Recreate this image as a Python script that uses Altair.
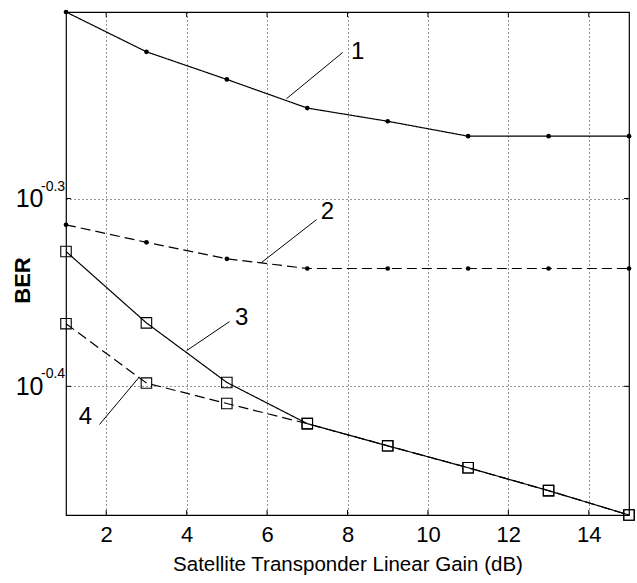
import altair as alt
import pandas as pd

# Transponder linear gain (dB) sampled at odd values
gain = [1, 3, 5, 7, 9, 11, 13, 15]

# Bit error rate for the four configurations
ber1 = [0.630, 0.600, 0.580, 0.560, 0.551, 0.541, 0.541, 0.541]
ber2 = [0.4853, 0.4750, 0.4655, 0.4600, 0.4600, 0.4600, 0.4600, 0.4600]
ber3 = [0.4697, 0.4303, 0.4000, 0.3803, 0.3701, 0.3603, 0.3503, 0.3400]
ber4 = [0.4299, 0.3997, 0.3898, 0.3803, 0.3701, 0.3603, 0.3503, 0.3400]

# Axis ticks
x_ticks = [2, 4, 6, 8, 10, 12, 14]
y_ticks = [10 ** -0.3, 10 ** -0.4]
y_exponents = ["-0.3", "-0.4"]

# Curve labels and their leader lines (text position, line start, line end)
label_text = ["1", "2", "3", "4"]
label_x = [8.25, 7.50, 5.37, 1.48]
label_y = [0.600, 0.4932, 0.4331, 0.3836]
leader_x1 = [6.485, 5.863, 3.998, 1.833]
leader_y1 = [0.5665, 0.4634, 0.4159, 0.3799]
leader_x2 = [7.880, 7.230, 5.067, 2.828]
leader_y2 = [0.5995, 0.4884, 0.4310, 0.4028]

FONT = "Liberation Sans, Arial, sans-serif"
W, H = 563, 503

x_scale = alt.Scale(domain=[1, 15], nice=False, zero=False)
y_scale = alt.Scale(type="log", domain=[min(ber3), max(ber1)], nice=False, zero=False)


def series(values, dash, shape, size, filled):
    df = pd.DataFrame({"gain": gain, "ber": values})
    base = alt.Chart(df)
    line = base.mark_line(color="black", strokeWidth=1.2, strokeDash=dash).encode(
        x=alt.X("gain:Q", scale=x_scale),
        y=alt.Y("ber:Q", scale=y_scale),
    )
    pts = base.mark_point(
        shape=shape, size=size, filled=filled, color="black", strokeWidth=1.1, opacity=1
    ).encode(
        x=alt.X("gain:Q", scale=x_scale),
        y=alt.Y("ber:Q", scale=y_scale),
    )
    return line + pts


# Frame with dotted grid, labels and titles
axes = alt.Chart(pd.DataFrame({"gain": [1], "ber": [0.5]})).mark_point(opacity=0).encode(
    x=alt.X(
        "gain:Q",
        scale=x_scale,
        title="Satellite Transponder Linear Gain (dB)",
        axis=alt.Axis(
            values=x_ticks,
            ticks=False,
            domain=False,
            grid=True,
            gridColor="black",
            gridDash=[1, 3],
            gridOpacity=0.85,
            labelFont=FONT,
            labelFontSize=22,
            labelColor="black",
            labelPadding=9,
            titleFont=FONT,
            titleFontSize=20.5,
            titleFontWeight="normal",
            titleColor="black",
            titleBaseline="alphabetic",
            titleY=55,
        ),
    ),
    y=alt.Y(
        "ber:Q",
        scale=y_scale,
        title="BER",
        axis=alt.Axis(
            values=y_ticks,
            labelExpr="'10'",
            ticks=False,
            domain=False,
            grid=True,
            gridColor="black",
            gridDash=[1, 3],
            gridOpacity=0.85,
            labelFont=FONT,
            labelFontSize=25,
            labelColor="black",
            labelPadding=23,
            labelBaseline="middle",
            titleFont=FONT,
            titleFontSize=22,
            titleFontWeight="bold",
            titleColor="black",
            titleAngle=-90,
            titleBaseline="middle",
            titleX=-44,
            titleY=268,
        ),
    ),
)

# Exponents of the y tick labels
exps = alt.Chart(pd.DataFrame({"ber": y_ticks, "exp": y_exponents, "gain": [1, 1]})).mark_text(
    font=FONT, fontSize=14, align="left", baseline="alphabetic", dx=-25, dy=-8, color="black"
).encode(
    x=alt.X("gain:Q", scale=x_scale),
    y=alt.Y("ber:Q", scale=y_scale),
    text="exp:N",
)

# Inward tick marks on all four sides
xt = pd.DataFrame({"gain": x_ticks})
yt = pd.DataFrame({"ber": y_ticks})
tick_bottom = alt.Chart(xt).mark_rule(color="black", strokeWidth=1).encode(
    x=alt.X("gain:Q", scale=x_scale), y=alt.value(H), y2=alt.value(H - 5)
)
tick_top = alt.Chart(xt).mark_rule(color="black", strokeWidth=1).encode(
    x=alt.X("gain:Q", scale=x_scale), y=alt.value(0), y2=alt.value(5)
)
tick_left = alt.Chart(yt).mark_rule(color="black", strokeWidth=1).encode(
    y=alt.Y("ber:Q", scale=y_scale), x=alt.value(0), x2=alt.value(5)
)
tick_right = alt.Chart(yt).mark_rule(color="black", strokeWidth=1).encode(
    y=alt.Y("ber:Q", scale=y_scale), x=alt.value(W), x2=alt.value(W - 5)
)

# Curve number labels with leader lines
lab = pd.DataFrame({
    "t": label_text, "lx": label_x, "ly": label_y,
    "x1": leader_x1, "y1": leader_y1, "x2": leader_x2, "y2": leader_y2,
})
leaders = alt.Chart(lab).mark_rule(color="black", strokeWidth=1).encode(
    x=alt.X("x1:Q", scale=x_scale), y=alt.Y("y1:Q", scale=y_scale),
    x2="x2:Q", y2="y2:Q",
)
numbers = alt.Chart(lab).mark_text(
    font=FONT, fontSize=24, align="center", baseline="middle", color="black"
).encode(
    x=alt.X("lx:Q", scale=x_scale), y=alt.Y("ly:Q", scale=y_scale), text="t:N"
)

chart = alt.layer(
    axes,
    tick_bottom, tick_top, tick_left, tick_right,
    series(ber1, [1, 0], "circle", 22, True),
    series(ber2, [10, 5], "circle", 22, True),
    series(ber3, [1, 0], "square", 110, False),
    series(ber4, [10, 5], "square", 110, False),
    leaders, numbers, exps,
).properties(
    width=W, height=H,
    autosize=alt.AutoSizeParams(type="none"),
    padding={"left": 66, "top": 12, "right": 8, "bottom": 68},
    background="white",
).configure_view(
    stroke="black", strokeWidth=1.2
)

chart.save("out.html", embed_options={"renderer": "svg", "actions": False})
